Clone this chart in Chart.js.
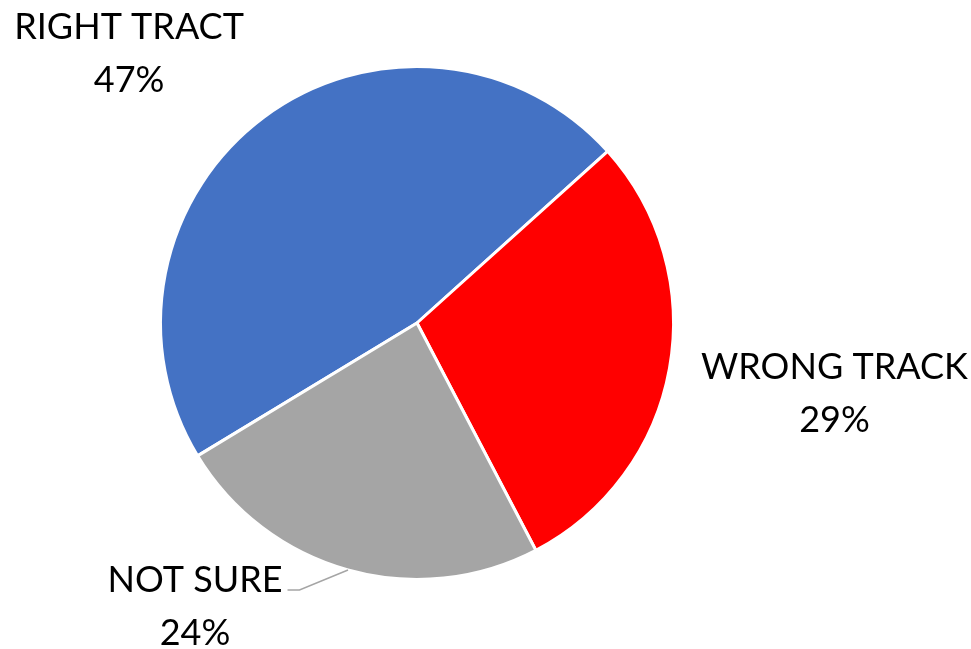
<!DOCTYPE html>
<html>
<head>
<meta charset="utf-8">
<script src="https://cdn.jsdelivr.net/npm/chart.js@4/dist/chart.umd.min.js"></script>
<style>
  html, body { margin: 0; padding: 0; background: #fff; }
  #wrap { width: 971px; height: 649px; }
</style>
</head>
<body>
<div id="wrap"><canvas id="myPieChart"></canvas></div>
<script>
// Datos del gráfico
var categorias = ["RIGHT TRACT", "WRONG TRACK", "NOT SURE"];
var porcentajes = [47, 29, 24];
var colores = ["#4472C4", "#FF0000", "#A5A5A5"];

// Desplazamiento de cada etiqueta respecto al borde del sector (px)
var desplazEtiquetas = [[-135, -65], [165, 24], [-153, 35]];
var conLinea = [false, false, true];

var etiquetasPlugin = {
  id: 'etiquetas',
  afterDatasetsDraw: function(chart) {
    var ctx = chart.ctx;
    var meta = chart.getDatasetMeta(0);
    ctx.save();
    ctx.font = '36px Lato';
    ctx.fillStyle = '#000';
    ctx.textAlign = 'center';
    ctx.textBaseline = 'alphabetic';
    meta.data.forEach(function(arc, i) {
      var mid = (arc.startAngle + arc.endAngle) / 2;
      var ex = arc.x + Math.cos(mid) * arc.outerRadius;
      var ey = arc.y + Math.sin(mid) * arc.outerRadius;
      var cx = ex + desplazEtiquetas[i][0];
      var cy = ey + desplazEtiquetas[i][1];
      var linea1 = categorias[i];
      var linea2 = porcentajes[i] + '%';
      ctx.fillText(linea1, cx, cy - 13);
      ctx.fillText(linea2, cx, cy + 40);
      if (conLinea[i]) {
        var w = ctx.measureText(linea1).width;
        var lx = cx + w / 2 + 5;
        ctx.strokeStyle = '#A5A5A5';
        ctx.lineWidth = 1.5;
        ctx.beginPath();
        ctx.moveTo(lx, cy - 15);
        ctx.lineTo(lx + 12, cy - 15);
        ctx.lineTo(ex, ey);
        ctx.stroke();
      }
    });
    ctx.restore();
  }
};

var ctx = document.getElementById("myPieChart");

var myPieChart = new Chart(ctx, {
  type: 'pie',
  data: {
    labels: categorias,
    datasets: [{
      data: porcentajes,
      backgroundColor: colores,
      borderColor: '#FFFFFF',
      borderWidth: 3
    }]
  },
  options: {
    maintainAspectRatio: false,
    responsive: true,
    animation: false,
    rotation: -121.2,
    layout: {
      padding: { top: 65, bottom: 68, left: 159, right: 296 }
    },
    plugins: {
      legend: { display: false },
      tooltip: { enabled: false }
    }
  },
  plugins: [etiquetasPlugin]
});
</script>
</body>
</html>
